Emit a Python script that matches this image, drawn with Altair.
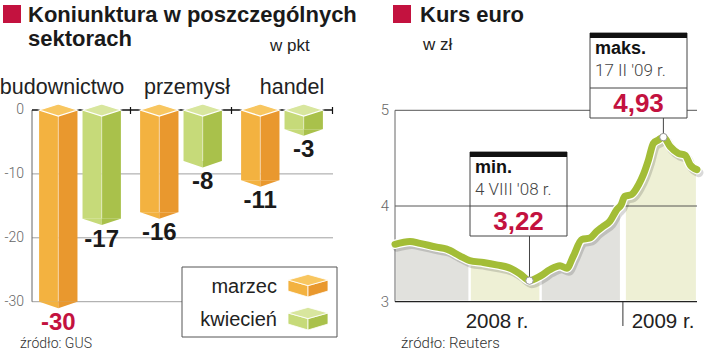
import altair as alt
import pandas as pd

# ---------------- data: left panel ----------------
sectors = ["budownictwo", "przemysł", "handel"]
months = ["marzec", "kwiecień"]
marzec = [-30, -16, -11]
kwiecien = [-17, -8, -3]
left_ticks = [0, -10, -20, -30]

# ---------------- data: right panel ----------------
kurs_dates = ["2008-01-01", "2008-01-25", "2008-02-10", "2008-03-08", "2008-03-24",
              "2008-04-14", "2008-04-30", "2008-05-22", "2008-06-12", "2008-07-04",
              "2008-07-20", "2008-08-04", "2008-08-22", "2008-09-06", "2008-09-22",
              "2008-10-03", "2008-10-13", "2008-10-27", "2008-11-09", "2008-11-20",
              "2008-11-30", "2008-12-11", "2008-12-22", "2008-12-29", "2009-01-04",
              "2009-01-15", "2009-01-26", "2009-02-03", "2009-02-11", "2009-02-19",
              "2009-02-27", "2009-03-07", "2009-03-18", "2009-03-31", "2009-04-11",
              "2009-04-19", "2009-04-30"]
kurs_values = [3.60, 3.63, 3.61, 3.57, 3.55,
               3.48, 3.43, 3.41, 3.385, 3.35,
               3.29, 3.22, 3.27, 3.335, 3.375,
               3.35, 3.47, 3.65, 3.665, 3.735,
               3.785, 3.84, 3.96, 4.01, 4.10,
               4.12, 4.22, 4.33, 4.48, 4.655,
               4.69, 4.72, 4.62, 4.55, 4.53,
               4.43, 4.38]
band_starts = ["2008-01-01", "2008-04-30", "2008-08-22", "2009-01-04"]
band_ends = ["2008-04-30", "2008-08-22", "2008-12-29", "2009-04-30"]
band_tones = ["szary", "zolty", "szary", "zolty"]
right_ticks = [3, 4, 5]
ext_dates = ["2008-08-04", "2009-03-07"]
ext_values = [3.22, 4.72]
ext_kinds = ["min.", "maks."]
ext_when = ["4 VIII '08 r.", "17 II '09 r."]
ext_labels = ["3,22", "4,93"]

# ---------------- styles ----------------
FONT = "Liberation Sans"
LIGHT = "Roboto"
CRIMSON = "#C3123F"
INK = "#1a1a1a"
FACE_L = ["#F3B240", "#C6DA79"]
FACE_R = ["#E9982E", "#A9C14B"]
TOP = ["#F8C660", "#D8E69E"]
AREA = ["#E1E1DD", "#EEF0D5"]
LINE = "#A3BD37"

BAR_HALF = 0.19
MONTH_SHIFT = 0.43

# ---------------- tables ----------------
rows = []
allv = marzec + kwiecien
for gi, s in enumerate(sectors):
    for mi, (m, vals) in enumerate(zip(months, [marzec, kwiecien])):
        v = vals[gi]
        c = gi + 0.5 + (mi - 0.5) * MONTH_SHIFT
        rows.append({"sector": s, "month": m, "value": v, "base": 0, "xc": c,
                     "xl": c - BAR_HALF, "xr": c + BAR_HALF, "label": str(v),
                     "is_min": v == min(allv)})
bars = pd.DataFrame(rows)

kurs = pd.DataFrame({"date": kurs_dates, "value": kurs_values})
arows = []
for k, (s, e, t) in enumerate(zip(band_starts, band_ends, band_tones)):
    for d, v in zip(kurs_dates, kurs_values):
        if s <= d <= e:
            arows.append({"date": d, "value": v, "band": k, "tone": t, "base": 3})
area_df = pd.DataFrame(arows)
ext = pd.DataFrame({"date": ext_dates, "value": ext_values})

# ---------------- scales ----------------
def XL(f):
    return alt.X(f, type="quantitative", axis=None,
                 scale=alt.Scale(domain=[0, 3], range=[29.5, 332.5], nice=False, zero=False))

def YL(f):
    return alt.Y(f, type="quantitative", axis=None,
                 scale=alt.Scale(domain=[-30, 0], range=[301.7, 110], nice=False, zero=False))

def XR(f):
    return alt.X(f, type="temporal", axis=None,
                 scale=alt.Scale(domain=[alt.DateTime(year=2008, month=1, date=1, utc=True),
                                         alt.DateTime(year=2009, month=4, date=30, utc=True)],
                                 range=[395, 697]))

def YR(f):
    return alt.Y(f, type="quantitative", axis=None,
                 scale=alt.Scale(domain=[3, 5], range=[301.7, 110.3], nice=False, zero=False))

def month_scale(rng):
    return alt.Scale(domain=months, range=rng)

one = pd.DataFrame({"a": [0]})

def txt(t, x, y, size, weight="normal", color=INK, align="left", font=FONT):
    return alt.Chart(pd.DataFrame({"t": [t]})).mark_text(
        font=font, fontSize=size, fontWeight=weight, color=color, align=align,
        baseline="middle").encode(x=alt.value(x), y=alt.value(y), text="t:N")

def box(x, x2, y, y2, fill="white", stroke=None, sw=1):
    kw = dict(fill=fill)
    if stroke:
        kw.update(stroke=stroke, strokeWidth=sw)
    return alt.Chart(one).mark_rect(**kw).encode(
        x=alt.value(x), x2=alt.value(x2), y=alt.value(y), y2=alt.value(y2))

layers = []

# ================= LEFT PANEL =================
layers.append(box(3, 21, 5, 23, fill=CRIMSON))
layers.append(txt("Koniunktura w poszczególnych", 28, 15, 22, "bold"))
layers.append(txt("sektorach", 28, 39, 22, "bold"))
layers.append(txt("w pkt", 270, 46, 17, "normal", "#222"))

cat_x = {"budownictwo": 62, "przemysł": 187, "handel": 292}
for s in sectors:
    layers.append(txt(s, cat_x[s], 88, 21.5, "normal", "#222", "center"))

lt = pd.DataFrame({"v": left_ticks, "t": [str(v) for v in left_ticks]})
layers.append(alt.Chart(lt[lt.v != 0]).mark_rule(color="#a0a0a0", strokeWidth=1).encode(
    x=alt.value(32), x2=alt.value(333), y=YL("v")))
layers.append(alt.Chart(lt).mark_text(font=LIGHT, fontWeight=300, fontSize=14, color="#666",
                                      align="right", baseline="middle").encode(
    x=alt.value(24), y=YL("v"), text="t:N"))
layers.append(alt.Chart(pd.DataFrame({"a": [0], "b": [-30]})).mark_rule(
    color="#666", strokeWidth=1).encode(x=alt.value(32), y=YL("a"), y2=alt.Y2("b")))
layers.append(alt.Chart(pd.DataFrame({"a": [0]})).mark_rule(color="#111", strokeWidth=1.5).encode(
    x=alt.value(32), x2=alt.value(333), y=YL("a")))
layers.append(alt.Chart(pd.DataFrame({"u": [1, 2, 3]})).mark_rule(color="#111", strokeWidth=1.2).encode(
    x=XL("u"), y=alt.value(107), y2=alt.value(114)))

# legend box
layers.append(box(182, 337, 267, 337, "white", "#555", 1))

# bars: faces
layers.append(alt.Chart(bars).mark_rect().encode(
    x=XL("xl"), x2=alt.X2("xc"), y=YL("value"), y2=alt.Y2("base"),
    fill=alt.Fill("month:N", scale=month_scale(FACE_L), legend=None)))
layers.append(alt.Chart(bars).mark_rect().encode(
    x=XL("xc"), x2=alt.X2("xr"), y=YL("value"), y2=alt.Y2("base"),
    fill=alt.Fill("month:N", scale=month_scale(FACE_R), legend=None)))
layers.append(alt.Chart(bars).mark_rule(color="white", strokeWidth=0.8, opacity=0.6).encode(
    x=XL("xc"), y=YL("value"), y2=alt.Y2("base")))
# bottom V
layers.append(alt.Chart(bars).mark_point(shape="M-1,0L0,0L0,0.34Z", size=1444, filled=True,
                                         opacity=1, strokeWidth=0).encode(
    x=XL("xc"), y=YL("value"), fill=alt.Fill("month:N", scale=month_scale(FACE_L), legend=None)))
layers.append(alt.Chart(bars).mark_point(shape="M0,0L1,0L0,0.34Z", size=1444, filled=True,
                                         opacity=1, strokeWidth=0).encode(
    x=XL("xc"), y=YL("value"), fill=alt.Fill("month:N", scale=month_scale(FACE_R), legend=None)))
# top
layers.append(alt.Chart(bars).mark_point(shape="M-1,0L0,-0.32L1,0L0,0.32Z", size=1444, filled=True,
                                         opacity=1, stroke="white", strokeWidth=1.3).encode(
    x=XL("xc"), y=YL("base"), fill=alt.Fill("month:N", scale=month_scale(TOP), legend=None)))
# value labels
layers.append(alt.Chart(bars).mark_text(font=FONT, fontSize=24, fontWeight="bold", dy=21,
                                        baseline="middle", align="center").encode(
    x=XL("xc"), y=YL("value"), text="label:N",
    color=alt.condition("datum.is_min", alt.value(CRIMSON), alt.value(INK))))

# legend content
for i, (m, yc) in enumerate(zip(months, [280, 313])):
    layers.append(txt(m, 277, yc + 7, 20, "normal", "#222", "right"))
    for shp, col in [("M-1,0L0,0.28L0,0.85L-1,0.55Z", FACE_L[i]),
                     ("M0,0.28L1,0L1,0.55L0,0.85Z", FACE_R[i]),
                     ("M-1,0L0,-0.28L1,0L0,0.28Z", TOP[i])]:
        layers.append(alt.Chart(one).mark_point(shape=shp, size=1600, filled=True, opacity=1,
                                                fill=col, stroke="white", strokeWidth=0.8).encode(
            x=alt.value(308), y=alt.value(yc)))

layers.append(txt("źródło: GUS", 20, 344, 14, 300, "#333", font=LIGHT))

# ================= RIGHT PANEL =================
layers.append(box(393, 411, 5, 23, fill=CRIMSON))
layers.append(txt("Kurs euro", 420, 15, 22, "bold"))
layers.append(txt("w zł", 423, 45, 17, "normal", "#222"))

layers.append(alt.Chart(area_df).mark_area(interpolate="monotone", stroke="white", strokeWidth=2.2).encode(
    x=XR("date"), y=YR("value"), y2=alt.Y2("base"), detail="band:N",
    fill=alt.Fill("tone:N", scale=alt.Scale(domain=["szary", "zolty"], range=AREA), legend=None)))

rt = pd.DataFrame({"v": right_ticks, "t": [str(v) for v in right_ticks]})
layers.append(alt.Chart(rt[rt.v != 3]).mark_rule(color="#444", strokeWidth=0.9).encode(
    x=alt.value(395), x2=alt.value(697), y=YR("v")))
layers.append(alt.Chart(pd.DataFrame({"a": [3], "b": [5]})).mark_rule(color="#666", strokeWidth=1).encode(
    x=alt.value(395), y=YR("a"), y2=alt.Y2("b")))
layers.append(alt.Chart(pd.DataFrame({"a": [3]})).mark_rule(color="#222", strokeWidth=1.2).encode(
    x=alt.value(395), x2=alt.value(697), y=YR("a")))
layers.append(alt.Chart(pd.DataFrame({"d": ["2009-01-01"]})).mark_rule(color="#333", strokeWidth=1).encode(
    x=XR("d"), y=alt.value(302), y2=alt.value(326)))
layers.append(alt.Chart(rt).mark_text(font=LIGHT, fontWeight=300, fontSize=15, color="#666",
                                      align="right", baseline="middle").encode(
    x=alt.value(389), y=YR("v"), text="t:N"))

# line with shadow and halo
layers.append(alt.Chart(kurs).mark_line(interpolate="monotone", color="#000", opacity=0.15,
                                        strokeWidth=9, xOffset=2, yOffset=3,
                                        strokeCap="round", strokeJoin="round").encode(
    x=XR("date"), y=YR("value")))
layers.append(alt.Chart(kurs).mark_line(interpolate="monotone", color="white", strokeWidth=9.5,
                                        strokeCap="round", strokeJoin="round").encode(
    x=XR("date"), y=YR("value")))
layers.append(alt.Chart(kurs).mark_line(interpolate="monotone", color=LINE, strokeWidth=7,
                                        strokeCap="round", strokeJoin="round").encode(
    x=XR("date"), y=YR("value")))

# annotation boxes
boxes = [(470, 567, 152, 236, 206), (590, 687, 33, 118, 88)]
for i, (bx0, bx1, by0, by1, bdiv) in enumerate(boxes):
    layers.append(alt.Chart(ext.iloc[[i]]).mark_rule(color="#444", strokeWidth=1).encode(
        x=XR("date"), y=YR("value"), y2=alt.value(by1)))
    layers.append(box(bx0, bx1, by0, by1, "white", "#444", 1))
    layers.append(box(bx0, bx1, by0, by0 + 5, "#111"))
    layers.append(alt.Chart(one).mark_rule(color="#444", strokeWidth=1).encode(
        x=alt.value(bx0), x2=alt.value(bx1), y=alt.value(bdiv)))
    layers.append(txt(ext_kinds[i], bx0 + 5, by0 + 16, 18, "bold", "#111"))
    layers.append(txt(ext_when[i], bx0 + 5, by0 + 38, 17, 300, "#444", font=LIGHT))
    layers.append(txt(ext_labels[i], (bx0 + bx1) / 2, (bdiv + by1) / 2 + 1, 26, "bold", CRIMSON, "center"))

layers.append(alt.Chart(ext).mark_point(filled=True, opacity=1, fill="white", stroke="#999",
                                        strokeWidth=1, size=55).encode(
    x=XR("date"), y=YR("value")))

layers.append(txt("2008 r.", 497, 322, 20.5, "normal", "#222", "center"))
layers.append(txt("2009 r.", 663, 322, 20.5, "normal", "#222", "center"))
layers.append(txt("źródło: Reuters", 401, 343, 15, 300, "#333", font=LIGHT))

chart = alt.layer(*layers).resolve_scale(
    x="independent", y="independent", fill="independent", color="independent"
).properties(
    width=720, height=351, padding=0, autosize=alt.AutoSizeParams(type="none"),
    background="white"
).configure_view(stroke=None)

chart.save("out.html", embed_options={"renderer": "svg", "actions": False})
